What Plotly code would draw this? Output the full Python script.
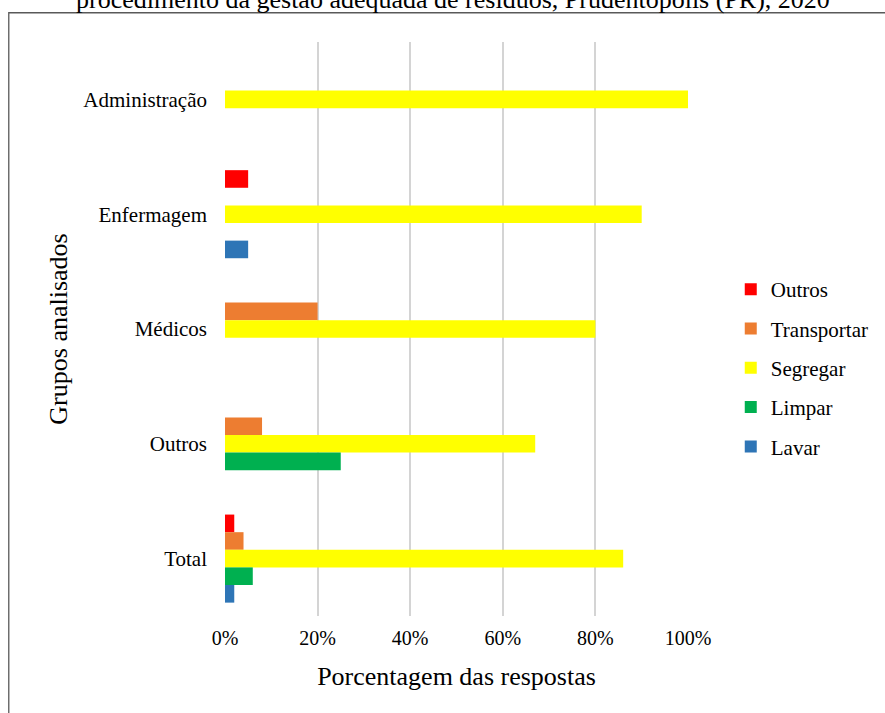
import plotly.graph_objects as go

categories = ["Administração", "Enfermagem", "Médicos", "Outros", "Total"]
series_names = ["Outros", "Transportar", "Segregar", "Limpar", "Lavar"]
outros = [0.00, 0.05, 0.00, 0.00, 0.02]
transportar = [0.00, 0.00, 0.20, 0.08, 0.04]
segregar = [1.00, 0.90, 0.80, 0.67, 0.86]
limpar = [0.00, 0.00, 0.00, 0.25, 0.06]
lavar = [0.00, 0.05, 0.00, 0.00, 0.02]
series_values = [outros, transportar, segregar, limpar, lavar]
colors = ["#FF0000", "#ED7D31", "#FFFF00", "#00B050", "#2E75B6"]
x_ticks = [0, 0.2, 0.4, 0.6, 0.8, 1.0]
x_tick_labels = ["0%", "20%", "40%", "60%", "80%", "100%"]

FONT = "Liberation Serif, Times New Roman, serif"

fig = go.Figure()
for name, vals, col in zip(series_names, series_values, colors):
    fig.add_trace(go.Bar(
        y=categories, x=vals, name=name, orientation="h",
        marker=dict(color=col, line=dict(width=0)),
        legendgroup=name,
    ))

fig.update_layout(
    width=885, height=713,
    margin=dict(l=225, r=196, t=42, b=97),
    paper_bgcolor="white", plot_bgcolor="white",
    barmode="group", bargap=0.233, bargroupgap=0,
    font=dict(family=FONT, size=20, color="black"),
    showlegend=True,
    legend=dict(
        x=1.09, xanchor="left", y=0.432, yanchor="middle",
        font=dict(family=FONT, size=21, color="black"),
        tracegroupgap=9, itemwidth=30,
        bgcolor="rgba(0,0,0,0)",
    ),
    xaxis=dict(
        range=[0, 1], tickvals=x_ticks, ticktext=x_tick_labels,
        showgrid=True, gridcolor="#d4d4d4", gridwidth=1.5,
        zeroline=False, showline=False, ticks="",
        tickfont=dict(family=FONT, size=20, color="black"),
        ticklabelstandoff=8,
        title=dict(text="Porcentagem das respostas",
                   font=dict(family=FONT, size=26, color="black"),
                   standoff=18),
        fixedrange=True,
    ),
    yaxis=dict(
        categoryorder="array", categoryarray=categories,
        autorange="reversed",
        showgrid=False, zeroline=False, showline=False, ticks="",
        tickfont=dict(family=FONT, size=21, color="black"),
        ticklabelstandoff=17,
        title=dict(text="Grupos analisados",
                   font=dict(family=FONT, size=26, color="black"),
                   standoff=8),
        fixedrange=True,
    ),
    annotations=[dict(
        text="procedimento da gestão adequada de resíduos, Prudentópolis (PR), 2020",
        xref="paper", yref="paper", x=0.4935, y=1.0732,
        xanchor="center", yanchor="middle", showarrow=False,
        font=dict(family=FONT, size=26, color="black"),
    )],
    shapes=[dict(
        type="rect", xref="paper", yref="paper",
        x0=-0.467, x1=1.455, y0=-0.2, y1=1.051,
        line=dict(color="#595959", width=1.3), fillcolor="rgba(0,0,0,0)",
        layer="below",
    )],
)

fig.write_html("out.html")
